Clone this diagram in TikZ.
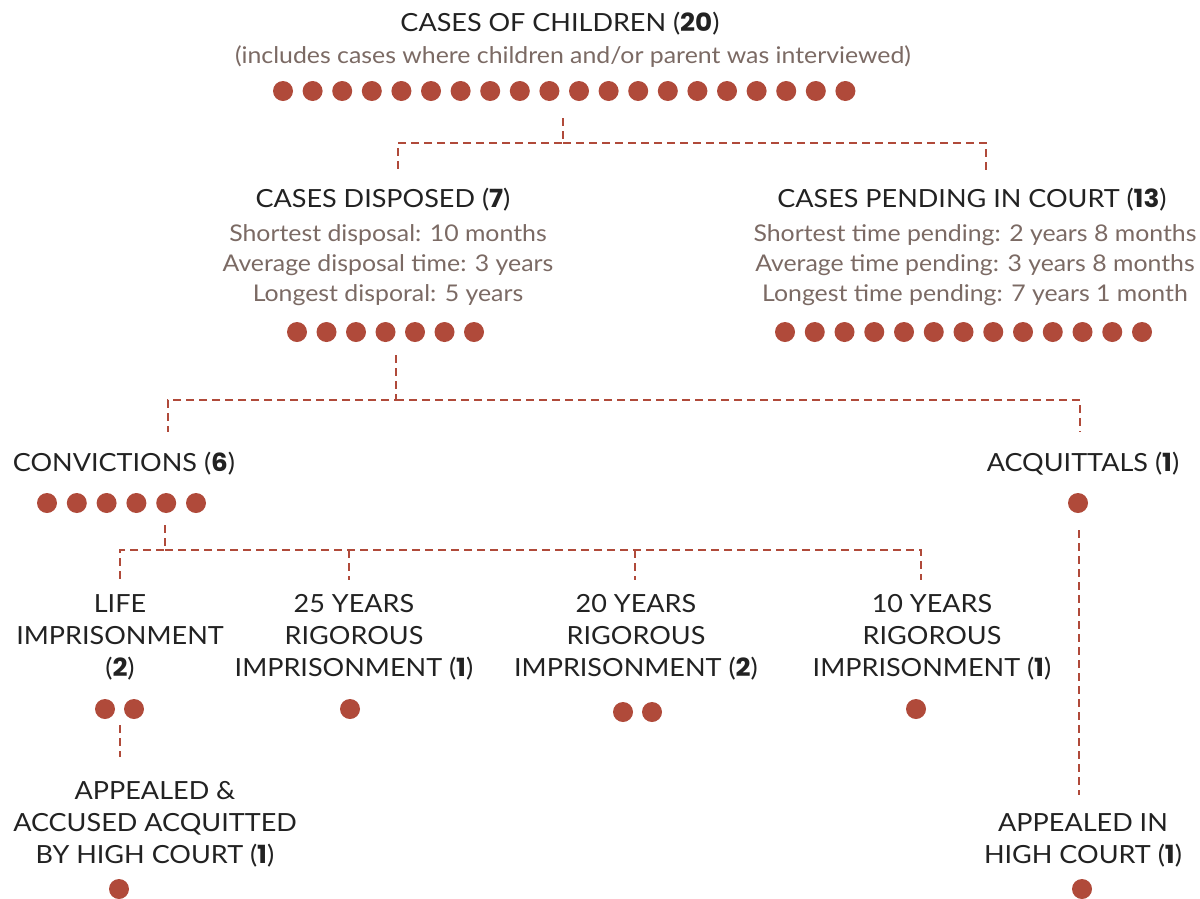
\documentclass[tikz,border=0pt]{standalone}
\usepackage{fontspec}
\setmainfont{Lato}[FakeStretch=1.08]
\newfontfamily\cifra{Poppins}[FakeStretch=1.05]
\newcommand\cuenta[1]{{\cifra\bfseries #1}}
\definecolor{ladrillo}{HTML}{B04A3A}
\definecolor{tinta}{HTML}{222222}
\definecolor{gris}{HTML}{7B6A64}

\begin{document}
\begin{tikzpicture}[
      x=1pt, y=-1pt,
      titulo/.style={font=\fontsize{25}{32}\selectfont, text=tinta, align=center, inner sep=0pt},
      detalle/.style={font=\fontsize{23}{30}\selectfont, text=gris, align=center, inner sep=0pt},
      rama/.style={draw=ladrillo, line width=2.8pt, dash pattern=on 8pt off 5pt},
      punto/.style={fill=ladrillo}
    ]
    \useasboundingbox (0,0) rectangle (1200,898);

    % --- Total de casos ---
    \node[titulo] (tot) at (560,24) {CASES OF CHILDREN (\cuenta{20})};
    \node[detalle] (totSub) at (573,57) {(includes cases where children and/or parent was interviewed)};
    \foreach \i in {0,...,19}
      \fill[punto] (283+29.6*\i,91) circle (10pt);
    \coordinate (totBase) at (563,118);
    \coordinate (dispTop) at (398,170);
    \coordinate (pendTop) at (986,170);
    \draw[rama] (totBase) -- ++(0,25) coordinate (totCruce) -| (dispTop);
    \draw[rama] (totCruce) -| (pendTop);

    % --- Casos resueltos ---
    \node[titulo] (disp) at (383,200) {CASES DISPOSED (\cuenta{7})};
    \node[detalle] (dispSub) at (388,265) {Shortest disposal: 10 months\\Average disposal time: 3 years\\Longest disporal: 5 years};
    \foreach \i in {0,...,6}
      \fill[punto] (297+29.5*\i,332) circle (10pt);

    % --- Casos pendientes ---
    \node[titulo] (pend) at (972,200) {CASES PENDING IN COURT (\cuenta{13})};
    \node[detalle] (pendSub) at (975,265) {Shortest time pending: 2 years 8 months\\Average time pending: 3 years 8 months\\Longest time pending: 7 years 1 month};
    \foreach \i in {0,...,12}
      \fill[punto] (785+29.75*\i,332) circle (10pt);

    \coordinate (dispBase) at (396,355);
    \coordinate (convTop) at (168,432);
    \coordinate (acqTop) at (1080,432);
    \draw[rama] (dispBase) -- ++(0,45) coordinate (dispCruce) -| (convTop);
    \draw[rama] (dispCruce) -| (acqTop);

    % --- Condenas y absoluciones ---
    \node[titulo] (conv) at (124,464) {CONVICTIONS (\cuenta{6})};
    \foreach \i in {0,...,5}
      \fill[punto] (47+29.8*\i,503) circle (10pt);
    \node[titulo] (acq) at (1083,464) {ACQUITTALS (\cuenta{1})};
    \fill[punto] (1078,503) circle (10pt);

    \coordinate (convBase) at (165,525);
    \coordinate (lifeTop) at (120,580);
    \coordinate (r25Top) at (349,580);
    \coordinate (r20Top) at (635,580);
    \coordinate (r10Top) at (921,580);
    \draw[rama] (convBase) -- ++(0,25) coordinate (convCruce) -| (lifeTop);
    \draw[rama] (convCruce) -| (r10Top);
    \draw[rama] (r25Top |- convCruce) -- (r25Top);
    \draw[rama] (r20Top |- convCruce) -- (r20Top);

    % --- Penas ---
    \node[titulo] (life) at (120,637) {LIFE\\IMPRISONMENT\\(\cuenta{2})};
    \fill[punto] (105,709) circle (10pt) (134,709) circle (10pt);
    \node[titulo] (r25) at (354,637) {25 YEARS\\RIGOROUS\\IMPRISONMENT (\cuenta{1})};
    \fill[punto] (350,709) circle (10pt);
    \node[titulo] (r20) at (636,637) {20 YEARS\\RIGOROUS\\IMPRISONMENT (\cuenta{2})};
    \fill[punto] (623,712) circle (10pt) (652,712) circle (10pt);
    \node[titulo] (r10) at (932,637) {10 YEARS\\RIGOROUS\\IMPRISONMENT (\cuenta{1})};
    \fill[punto] (916,709) circle (10pt);

    % --- Apelaciones ---
    \coordinate (lifeBase) at (120,725);
    \coordinate (apelTop) at (120,757);
    \draw[rama] (lifeBase) -- (apelTop);
    \node[titulo] (apel) at (155,824) {APPEALED \&\\ACCUSED ACQUITTED\\BY HIGH COURT (\cuenta{1})};
    \fill[punto] (119,889) circle (10pt);

    \coordinate (acqBase) at (1079,530);
    \coordinate (hcTop) at (1079,795);
    \draw[rama] (acqBase) -- (hcTop);
    \node[titulo] (hc) at (1083,840) {APPEALED IN\\HIGH COURT (\cuenta{1})};
    \fill[punto] (1082,889) circle (10pt);
  \end{tikzpicture}
\end{document}
